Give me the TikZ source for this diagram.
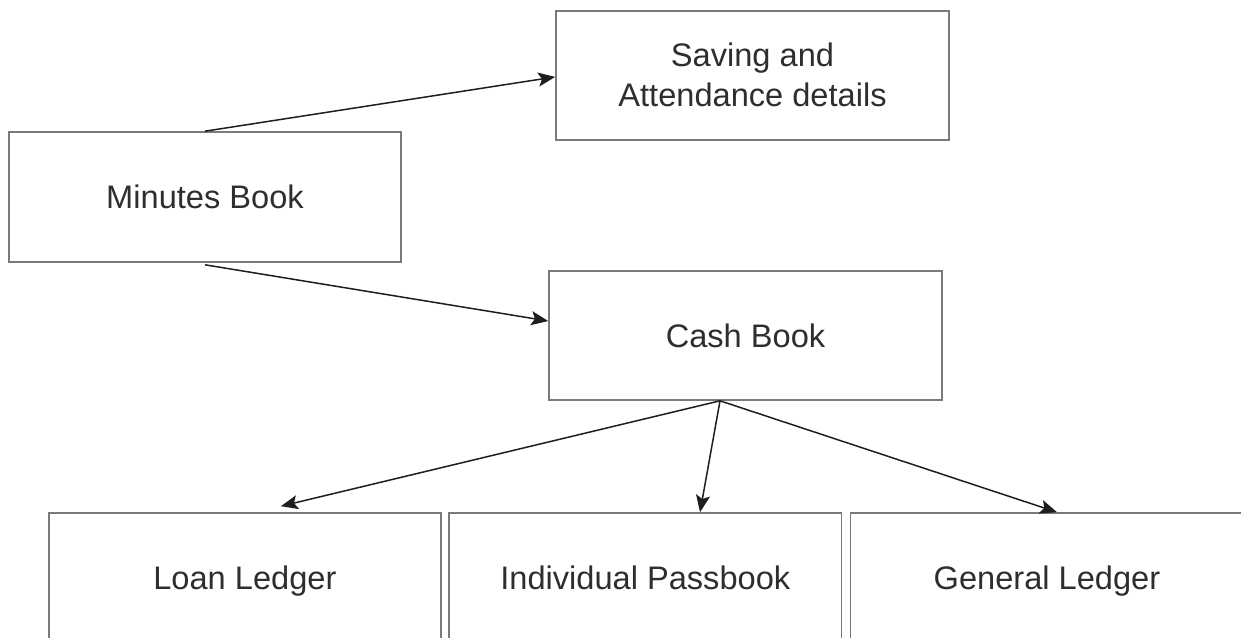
\documentclass[tikz,border=0pt]{standalone}
\usepackage{fontspec}
\setmainfont{Liberation Sans}
\usetikzlibrary{arrows.meta}
\definecolor{boxline}{HTML}{7A7A7A}
\definecolor{txt}{HTML}{2E2E2E}
\definecolor{arr}{HTML}{1E1E1E}
\tikzset{
  box/.style={draw=boxline, line width=0.8pt, rectangle, minimum width=196.5pt, minimum height=64.5pt,
    inner sep=0pt, text=txt, align=center, font=\fontsize{16.3}{20}\selectfont},
  onebox/.style={box, text height=13.4pt, text depth=1.8pt},
  conn/.style={draw=arr, line width=0.75pt, -{Stealth[length=8.5pt,width=7pt,inset=1.8pt]}}
}
\begin{document}
\begin{tikzpicture}[x=0.5pt,y=-0.5pt]
\useasboundingbox (0,0) rectangle (1241,637);
\clip (0,0) rectangle (1241,637);
\node[box] (sa) at (752.5,75.3) {Saving and\\Attendance details};
\node[onebox, minimum width=196pt, minimum height=65pt] (mb) at (205,197) {Minutes Book};
\node[onebox] (cb) at (745.5,335.5) {Cash Book};
\node[onebox, minimum width=195.85pt] (ll) at (244.9,577.5) {Loan Ledger};
\node[onebox, minimum width=196.35pt] (pb) at (645.3,577.5) {Individual Passbook};
\node[onebox] (gl) at (1047,577.5) {General Ledger};
\draw[conn] (mb.north) -- ([yshift=-0.8pt]sa.west);
\draw[conn] ([yshift=-1pt]mb.south) -- ([yshift=7.25pt]cb.west);
\draw[conn] ([xshift=-12.75pt]cb.south) -- ([xshift=18pt,yshift=3pt]ll.north);
\draw[conn] ([xshift=-12.75pt]cb.south) -- ([xshift=27.35pt]pb.north);
\draw[conn] ([xshift=-12.75pt]cb.south) -- ([xshift=5pt]gl.north);
\end{tikzpicture}
\end{document}
